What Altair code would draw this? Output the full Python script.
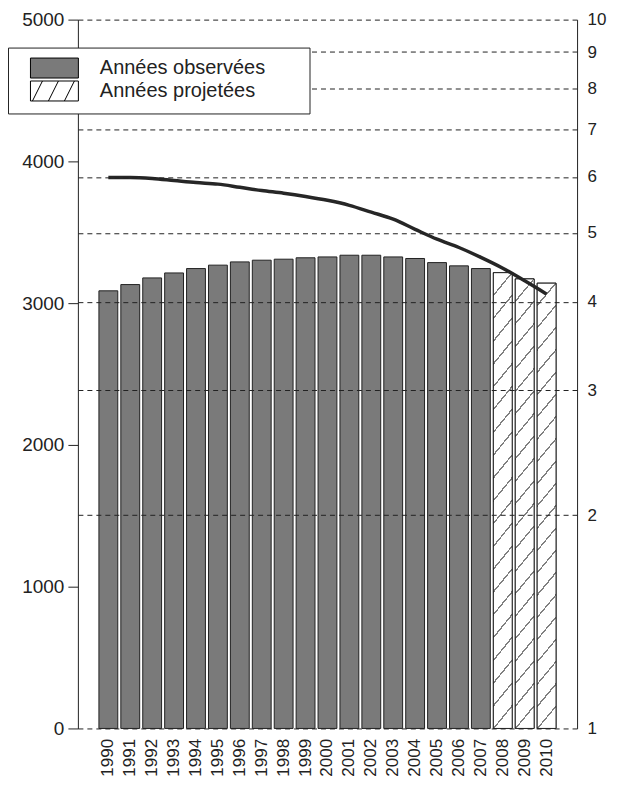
import altair as alt
import pandas as pd

# ---- data ----
years = [str(y) for y in range(1990, 2011)]
populations = [3087, 3131, 3178, 3213, 3244, 3268, 3291, 3303, 3310, 3320, 3326,
               3338, 3338, 3326, 3315, 3286, 3263, 3244, 3215, 3171, 3141]
ratios = [5.99, 5.99, 5.97, 5.93, 5.89, 5.86, 5.80, 5.74, 5.69, 5.63, 5.56,
          5.47, 5.35, 5.23, 5.06, 4.90, 4.77, 4.62, 4.46, 4.28, 4.10]
kinds = ["Années observées"] * 18 + ["Années projetées"] * 3
legend_labels = ["Années observées", "Années projetées"]
left_ticks = [0, 1000, 2000, 3000, 4000, 5000]
right_ticks = [1, 2, 3, 4, 5, 6, 7, 8, 9, 10]

df = pd.DataFrame({"annee": years, "valeur": populations, "ratio": ratios, "type": kinds})

# ---- styles ----
FONT = "Liberation Sans"
INK = "#222222"
BAR_GRAY = "#7a7a7a"
HATCH_GRAY = "#808080"

# diagonal hatching built as a striped linear gradient
slope, bw, bh = 1.2, 19.0, 450.0
s = (slope * bw + bh) / ((slope * bw) ** 2 + bh ** 2)
n_stripes = 21
half = 0.0022
stops = []
for k in range(n_stripes + 1):
    c = k / n_stripes
    a, b = max(0.0, c - half), min(1.0, c + half)
    stops += [alt.GradientStop(offset=a, color="white"),
              alt.GradientStop(offset=a, color=HATCH_GRAY),
              alt.GradientStop(offset=b, color=HATCH_GRAY),
              alt.GradientStop(offset=b, color="white")]
hatch_fill = alt.LinearGradient(gradient="linear", stops=stops,
                                x1=0, y1=0, x2=slope * bw * s, y2=bh * s)

shape_paths = [
    "M-2.4,-1H2.4V1H-2.4Z",
    "M-2.4,-1H2.4V1H-2.4Z M-2.2,1L-1.2,-1 M-0.6,1L0.4,-1 M1,1L2,-1",
]

# widen the legend box: non-breaking spaces kept by a trailing zero-width char
pad_expr = "datum.label + '" + "\u00a0" * 6 + "\u200b'"
legend = alt.Legend(title=None, orient="none", legendX=-70, legendY=28,
                    fillColor="white", strokeColor=INK, padding=10,
                    labelFont=FONT, labelFontSize=20, labelColor=INK, labelLimit=400,
                    symbolSize=400, symbolStrokeColor="black", symbolStrokeWidth=1,
                    symbolOffset=26, labelOffset=35, rowPadding=-7,
                    labelExpr=pad_expr, zindex=2)

x_enc = alt.X("annee:O", sort=years,
              scale=alt.Scale(paddingInner=0.14, paddingOuter=0.96),
              axis=alt.Axis(title=None, labelAngle=270, labelFont=FONT, labelFontSize=17,
                            labelColor=INK, labelPadding=10, domain=False, ticks=False))
y_enc = alt.Y("valeur:Q", scale=alt.Scale(domain=[0, 5000], nice=False),
              axis=alt.Axis(title=None, values=left_ticks, format="d", grid=False,
                            labelFont=FONT, labelFontSize=19, labelColor=INK,
                            tickSize=10, tickColor=INK, domainColor=INK, labelPadding=4))

fill_scale = alt.Scale(domain=legend_labels, range=[BAR_GRAY, "#ffffff"])

base = alt.Chart(df)

bars = base.mark_bar(stroke=INK, strokeWidth=1).encode(
    x=x_enc, y=y_enc,
    fill=alt.Fill("type:N", scale=fill_scale, legend=legend),
)
hatch = base.transform_filter(alt.datum.type == "Années projetées").mark_bar(
    fill=hatch_fill, stroke=INK, strokeWidth=1
).encode(x=x_enc, y=y_enc)

legend_pts = base.transform_filter("false").mark_point(filled=True, opacity=1).encode(
    x=x_enc, y=y_enc,
    fill=alt.Fill("type:N", scale=fill_scale, legend=legend),
    shape=alt.Shape("type:N", scale=alt.Scale(domain=legend_labels, range=shape_paths),
                    legend=legend),
)

line = base.mark_line(stroke="#262626", strokeWidth=3.5, interpolate="monotone").encode(
    x=x_enc,
    y=alt.Y("ratio:Q", scale=alt.Scale(type="log", domain=[1, 10], nice=False),
            axis=alt.Axis(title=None, orient="right", values=right_ticks, format="d",
                          grid=True, gridDash=[5, 4], gridColor=INK, gridWidth=1,
                          labelFont=FONT, labelFontSize=17, labelColor=INK,
                          ticks=False, domainColor=INK,
                          labelPadding=10, labelOverlap=False, zindex=1)),
)

chart = (
    alt.layer(alt.layer(bars, hatch, legend_pts), line)
    .resolve_scale(y="independent")
    .properties(width=500, height=710,
                autosize=alt.AutoSizeParams(type="none"),
                padding={"left": 70, "top": 11, "right": 40, "bottom": 50},
                background="white")
    .configure_view(strokeWidth=0)
)

chart.save("out.html", embed_options={"renderer": "svg", "actions": False})
